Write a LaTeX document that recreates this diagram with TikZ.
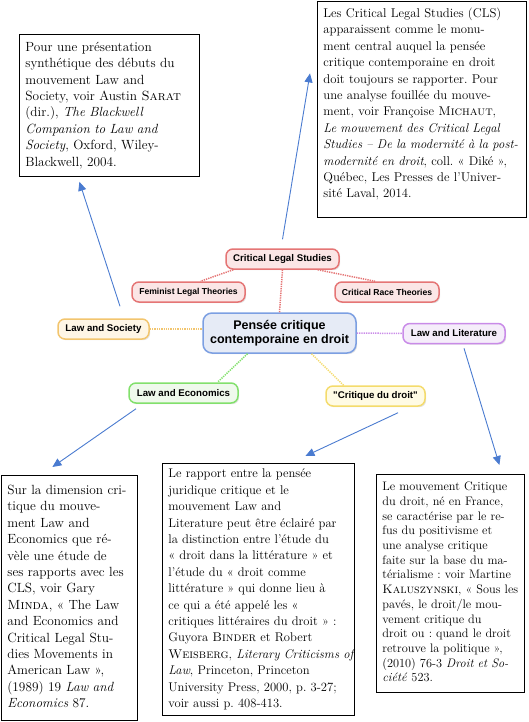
\documentclass[tikz,border=0pt]{standalone}
\usepackage{fontspec}
\newfontfamily\mapfont{Liberation Sans}
\usetikzlibrary{arrows.meta,shadows}
\frenchspacing

\definecolor{clsline}{HTML}{E57575}
\definecolor{clsfill}{HTML}{FBE6E6}
\definecolor{centline}{HTML}{7C9FE2}
\definecolor{centfill}{HTML}{E6EBF6}
\definecolor{socline}{HTML}{F2C56E}
\definecolor{socfill}{HTML}{FEF6E6}
\definecolor{litline}{HTML}{C98BE8}
\definecolor{litfill}{HTML}{F5EDFA}
\definecolor{ecoline}{HTML}{82E06C}
\definecolor{ecofill}{HTML}{EFF9EC}
\definecolor{critline}{HTML}{F4DB6C}
\definecolor{critfill}{HTML}{FFFBE4}
\definecolor{refblue}{HTML}{4A7BD0}

\begin{document}
\begin{tikzpicture}[x=1pt,y=-1pt,
  topic/.style={draw,rounded corners=7pt,line width=1.5pt,minimum height=20pt,
    inner xsep=3pt,inner ysep=2pt,font=\mapfont\bfseries\fontsize{9.7}{11}\selectfont,
    drop shadow={shadow xshift=1.2pt,shadow yshift=-1.2pt,opacity=0.22}},
  subtopic/.style={topic,font=\mapfont\bfseries\fontsize{8.6}{10}\selectfont},
  note/.style={draw,line width=0.8pt,anchor=north west,inner xsep=6pt,inner ysep=0pt,
    align=left,font=\fontsize{13.3}{16.4}\selectfont},
  link/.style={line width=1.5pt,dash pattern=on 1.3pt off 1pt},
  pointer/.style={draw=refblue,line width=0.9pt,-{Triangle[length=9pt,width=8pt]}}]
\useasboundingbox (0,0) rectangle (529,722);

% mind map
\node[topic,draw=clsline,fill=clsfill,minimum width=113pt] (cls) at (282.5,259) {Critical Legal Studies};
\node[subtopic,draw=clsline,fill=clsfill,minimum width=113pt] (fem) at (188.5,292) {Feminist Legal Theories};
\node[subtopic,draw=clsline,fill=clsfill,minimum width=104pt] (crt) at (387,292) {Critical Race Theories};
\node[topic,draw=centline,fill=centfill,minimum width=153pt,minimum height=40pt,rounded corners=9pt,
  align=center,font=\mapfont\bfseries\fontsize{12.5}{14}\selectfont] (centre) at (279.5,333)
  {Pensée critique\\contemporaine en droit};
\node[topic,draw=socline,fill=socfill,minimum width=91pt] (soc) at (103.5,329) {Law and Society};
\node[topic,draw=litline,fill=litfill,minimum width=102pt] (lit) at (454,333.5) {Law and Literature};
\node[topic,draw=ecoline,fill=ecofill,minimum width=109pt] (eco) at (183.5,393) {Law and Economics};
\node[topic,draw=critline,fill=critfill,minimum width=99pt] (crit) at (375.5,396) {"Critique du droit"};

\draw[link,draw=clsline] (cls.south) -- (centre.north);
\draw[link,draw=clsline] ([xshift=8pt]cls.south west) -- ([xshift=12pt]fem.north);
\draw[link,draw=clsline] ([xshift=-22pt]cls.south east) -- ([xshift=-12pt]crt.north);
\draw[link,draw=socline] (soc.east) -- (soc.east -| centre.west);
\draw[link,draw=litline] (centre.east) -- (lit.west);
\draw[link,draw=ecoline] ([xshift=-32pt]centre.south) -- ([xshift=34pt]eco.north);
\draw[link,draw=critline] ([xshift=32pt]centre.south) -- ([xshift=-32pt]crit.north);

% notes
\node[note,text width=168pt,minimum height=142pt] (n1) at (19,34) {\begin{tabular}{@{}l@{}}
Pour une présentation\\
synthétique des débuts du\\
mouvement Law and\\
Society, voir Austin \textsc{Sarat}\\
(dir.), \textit{The Blackwell}\\
\textit{Companion to Law and}\\
\textit{Society}, Oxford, Wiley-\\
Blackwell, 2004.
\end{tabular}};

\node[note,text width=197pt,minimum height=216pt,font=\fontsize{12.7}{16.4}\selectfont] (n2) at (317,1) {\begin{tabular}{@{}l@{}}
Les Critical Legal Studies (CLS)\\
apparaissent comme le monu-\\
ment central auquel la pensée\\
critique contemporaine en droit\\
doit toujours se rapporter. Pour\\
une analyse fouillée du mouve-\\
ment, voir Françoise \textsc{Michaut},\\
\textit{Le mouvement des Critical Legal}\\
\textit{Studies -- De la modernité à la post-}\\
\textit{modernité en droit}, coll. « Diké »,\\
Québec, Les Presses de l’Univer-\\
sité Laval, 2014.\\[10pt]
\end{tabular}};

\node[note,text width=124pt,minimum height=245pt] (n3) at (1,475) {\begin{tabular}{@{}l@{}}
Sur la dimension cri-\\
tique du mouve-\\
ment Law and\\
Economics que ré-\\
vèle une étude de\\
ses rapports avec les\\
CLS, voir Gary\\
\textsc{Minda}, « The Law\\
and Economics and\\
Critical Legal Stu-\\
dies Movements in\\
American Law »,\\
(1989) 19 \textit{Law and}\\
\textit{Economics} 87.
\end{tabular}};

\node[note,text width=180pt,minimum height=252pt,font=\fontsize{12.6}{16.4}\selectfont] (n4) at (162,463) {\begin{tabular}{@{}l@{}}
Le rapport entre la pensée\\
juridique critique et le\\
mouvement Law and\\
Literature peut être éclairé par\\
la distinction entre l’étude du\\
« droit dans la littérature » et\\
l’étude du « droit comme\\
littérature » qui donne lieu à\\
ce qui a été appelé les «\\
critiques littéraires du droit » :\\
Guyora \textsc{Binder} et Robert\\
\textsc{Weisberg}, \textit{Literary Criticisms of}\\
\textit{Law}, Princeton, Princeton\\
University Press, 2000, p. 3-27;\\
voir aussi p. 408-413.
\end{tabular}};

\node[note,text width=136pt,minimum height=218pt,font=\fontsize{12.3}{14.7}\selectfont] (n5) at (376,474) {\begin{tabular}{@{}l@{}}
Le mouvement Critique\\
du droit, né en France,\\
se caractérise par le re-\\
fus du positivisme et\\
une analyse critique\\
faite sur la base du ma-\\
térialisme : voir Martine\\
\textsc{Kaluszynski}, « Sous les\\
pavés, le droit/le mou-\\
vement critique du\\
droit ou : quand le droit\\
retrouve la politique »,\\
(2010) 76-3 \textit{Droit et So-}\\
\textit{ciété} 523.
\end{tabular}};

% arrows to the notes
\draw[pointer] ([xshift=16.5pt,yshift=12pt]soc.north) -- ([xshift=-30pt,yshift=-5pt]n1.south);
\draw[pointer] ([yshift=9pt]cls.north) -- ([xshift=-7pt,yshift=36pt]n2.west);
\draw[pointer] ([xshift=-47.5pt,yshift=-5pt]eco.south) -- ([xshift=-17pt,yshift=8pt]n3.north);
\draw[pointer] ([xshift=22.5pt,yshift=-6pt]crit.south) -- ([xshift=47pt,yshift=7pt]n4.north);
\draw[pointer] ([xshift=10pt,yshift=-4pt]lit.south) -- ([xshift=49pt,yshift=9pt]n5.north);
\end{tikzpicture}
\end{document}
